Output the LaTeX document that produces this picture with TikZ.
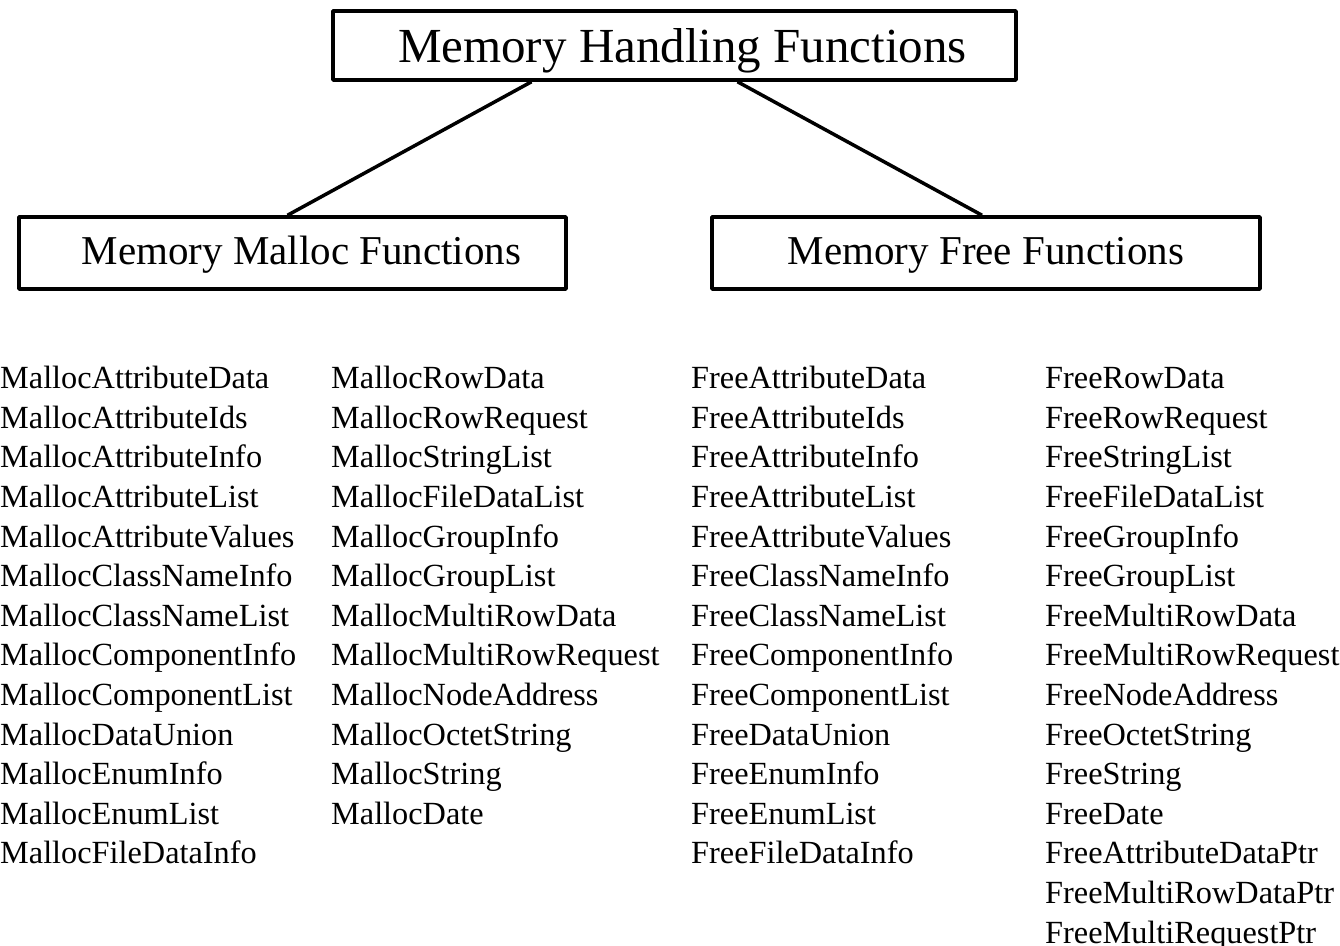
\documentclass[tikz,border=0pt]{standalone}
\usepackage{fontspec}
\setmainfont{Liberation Serif}
\newcommand{\shiftedtext}[3]{\hspace*{#1}\raisebox{#2}[\height][\depth]{#3}}
\begin{document}
\begin{tikzpicture}[x=1pt,y=-1pt,
  box/.style={draw,line width=3.5pt,rectangle,inner sep=0pt,line join=round},
  conn/.style={line width=3.5pt},
  item/.style={anchor=base west,inner sep=0pt,font=\fontsize{32.3}{39}\selectfont}]
\useasboundingbox (0,0) rectangle (1340,945);
\node[box,minimum width=683pt,minimum height=69pt,font=\fontsize{49}{58}\selectfont] (top) at (674.5,45.5) {\shiftedtext{16pt}{-5pt}{Memory Handling Functions}};
\node[box,minimum width=547pt,minimum height=72pt,font=\fontsize{41}{49}\selectfont] (malloc) at (292.5,253) {\shiftedtext{18pt}{-2pt}{Memory Malloc Functions}};
\node[box,minimum width=548pt,minimum height=72pt,font=\fontsize{41}{49}\selectfont] (free) at (986,253) {\shiftedtext{0pt}{-2pt}{Memory Free Functions}};
\draw[conn] ([xshift=-143pt]top.south) -- ([xshift=-5pt]malloc.north);
\draw[conn] ([xshift=63pt]top.south) -- ([xshift=-4pt]free.north);
\foreach \t [count=\i] in {MallocAttributeData,MallocAttributeIds,MallocAttributeInfo,MallocAttributeList,MallocAttributeValues,MallocClassNameInfo,MallocClassNameList,MallocComponentInfo,MallocComponentList,MallocDataUnion,MallocEnumInfo,MallocEnumList,MallocFileDataInfo}
  \node[item] (ma\i) at (0,349+39.6*\i) {\t};
\foreach \t [count=\i] in {MallocRowData,MallocRowRequest,MallocStringList,MallocFileDataList,MallocGroupInfo,MallocGroupList,MallocMultiRowData,MallocMultiRowRequest,MallocNodeAddress,MallocOctetString,MallocString,MallocDate}
  \node[item] (mb\i) at (331,349+39.6*\i) {\t};
\foreach \t [count=\i] in {FreeAttributeData,FreeAttributeIds,FreeAttributeInfo,FreeAttributeList,FreeAttributeValues,FreeClassNameInfo,FreeClassNameList,FreeComponentInfo,FreeComponentList,FreeDataUnion,FreeEnumInfo,FreeEnumList,FreeFileDataInfo}
  \node[item] (fa\i) at (691,349+39.6*\i) {\t};
\foreach \t [count=\i] in {FreeRowData,FreeRowRequest,FreeStringList,FreeFileDataList,FreeGroupInfo,FreeGroupList,FreeMultiRowData,FreeMultiRowRequest,FreeNodeAddress,FreeOctetString,FreeString,FreeDate,FreeAttributeDataPtr,FreeMultiRowDataPtr,FreeMultiRequestPtr}
  \node[item] (fb\i) at (1045,349+39.6*\i) {\t};
\end{tikzpicture}
\end{document}
